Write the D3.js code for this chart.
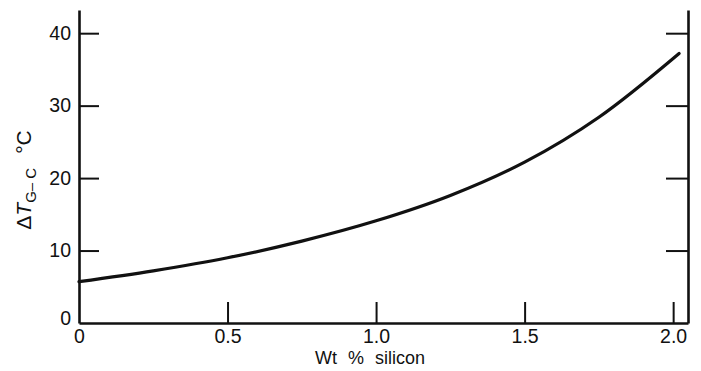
<!DOCTYPE html>
<html>
<head>
<meta charset="utf-8">
<script src="https://cdn.jsdelivr.net/npm/d3@7"></script>
<style>
  body { margin: 0; background: #fff; }
  svg { display: block; }
  text { font-family: "Liberation Sans", Arial, Helvetica, sans-serif; fill: #111; }
</style>
</head>
<body>
<div id="app"></div>
<script>
// values
const wtSilicon = [0, 0.25, 0.5, 0.75, 1.0, 1.25, 1.5, 1.75, 2.02];
const deltaT = [5.7, 7.2, 9.0, 11.3, 14.1, 17.6, 22.2, 28.4, 37.2];

const xTicks = [0, 0.5, 1.0, 1.5, 2.0];
const xTickLabels = ['0', '0.5', '1.0', '1.5', '2.0'];
const yTicks = [0, 10, 20, 30, 40];

const render = () => {
  const width = 701;
  const height = 371;
  const ink = '#111';

  const x = d3.scaleLinear().domain([0, 2.05]).range([79, 688]);
  const y = d3.scaleLinear().domain([0, 43.2]).range([323, 10]);

  const svg = d3.select('#app').append('svg')
    .attr('width', width)
    .attr('height', height);

  const styleAxis = (g, w) => {
    g.selectAll('path.domain').attr('stroke', ink).attr('stroke-width', w);
    g.selectAll('.tick line').attr('stroke', ink).attr('stroke-width', 2);
    g.selectAll('.tick text')
      .attr('font-family', '"Liberation Sans", Arial, sans-serif')
      .attr('font-size', 19.5)
      .attr('fill', ink);
  };

  // 1. left axis, ticks pointing inward
  const left = svg.append('g')
    .attr('transform', `translate(${x(0)}, 0)`)
    .call(d3.axisLeft(y).tickValues(yTicks).tickSize(-20).tickSizeOuter(0).tickPadding(8));
  styleAxis(left, 2.6);
  left.selectAll('.tick').filter(d => d === 0).select('line').remove();
  left.selectAll('.tick').filter(d => d === 0).select('text').attr('dy', '0.1em');

  // 2. right axis, no labels
  const right = svg.append('g')
    .attr('transform', `translate(${x(2.05)}, 0)`)
    .call(d3.axisRight(y).tickValues(yTicks.filter(d => d > 0)).tickSize(-22).tickSizeOuter(0).tickFormat(''));
  styleAxis(right, 2.6);

  // 3. bottom axis
  const bottom = svg.append('g')
    .attr('transform', `translate(0, ${y(0)})`)
    .call(d3.axisBottom(x).tickValues(xTicks).tickSize(-21).tickSizeOuter(0).tickPadding(6)
      .tickFormat((d, i) => xTickLabels[i]));
  styleAxis(bottom, 2.6);
  bottom.selectAll('.tick').filter(d => d === 0).select('line').remove();

  // 4. the curve
  const line = d3.line()
    .x((d, i) => x(wtSilicon[i]))
    .y(d => y(d))
    .curve(d3.curveCatmullRom);

  svg.append('path')
    .datum(deltaT)
    .attr('fill', 'none')
    .attr('stroke', ink)
    .attr('stroke-width', 3.2)
    .attr('stroke-linecap', 'round')
    .attr('d', line);

  // 5. axis titles
  svg.append('text')
    .attr('x', 370)
    .attr('y', 364)
    .attr('text-anchor', 'middle')
    .attr('font-size', 18)
    .attr('word-spacing', 6)
    .text('Wt % silicon');

  const yTitle = svg.append('text')
    .attr('transform', 'translate(31, 180) rotate(-90)')
    .attr('text-anchor', 'middle')
    .attr('font-size', 21);
  yTitle.append('tspan').text('Δ');
  yTitle.append('tspan').attr('font-style', 'italic').text('T');
  yTitle.append('tspan').attr('font-size', 15).attr('dy', 5).text('G– C');
  yTitle.append('tspan').attr('dy', -5).attr('dx', 14).text('°C');
};

document.addEventListener('DOMContentLoaded', render);
</script>
</body>
</html>
